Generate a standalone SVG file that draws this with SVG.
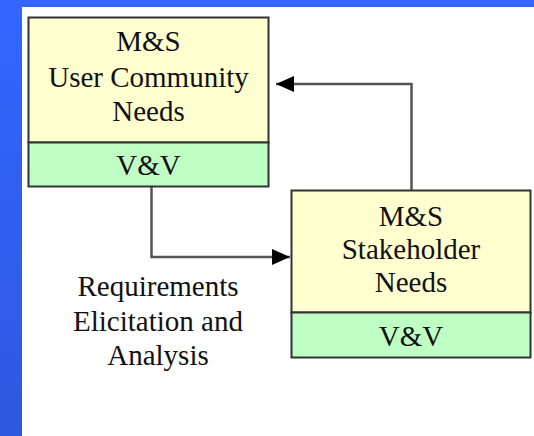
<svg xmlns="http://www.w3.org/2000/svg" width="534" height="436" viewBox="0 0 534 436">
<defs>
<linearGradient id="bg" x1="0" y1="0" x2="0" y2="1">
<stop offset="0" stop-color="#3366FF"/>
<stop offset="1" stop-color="#2D58E0"/>
</linearGradient>
<marker id="arr" viewBox="0 0 18 16" refX="18" refY="8" markerWidth="18" markerHeight="16" markerUnits="userSpaceOnUse" orient="auto">
<path d="M0,0 L18,8 L0,16 Z" fill="#000"/>
</marker>
<style>
.t{font-family:"Liberation Serif","Times New Roman",serif;font-size:29px;fill:#111;text-anchor:middle}
.top{fill:#FFFFD0;stroke:#333;stroke-width:2}
.bot{fill:#C0FFC4;stroke:#333;stroke-width:2}
.c{fill:none;stroke:#555;stroke-width:2.5}
</style>
</defs>
<rect x="0" y="0" width="534" height="436" fill="url(#bg)"/>
<rect x="22" y="7" width="512" height="429" fill="#FFFFFF"/>
<g id="connectors">
<path class="c" d="M411.5,190 V84 H276" marker-end="url(#arr)"/>
<path class="c" d="M151.5,187 V257 H290" marker-end="url(#arr)"/>
</g>
<g id="node-user">
<rect class="top" x="28.5" y="17.5" width="240" height="125"/>
<rect class="bot" x="28.5" y="142.5" width="240" height="44"/>
<text class="t" x="148.5" y="51">M&amp;S</text>
<text class="t" x="148.5" y="87">User Community</text>
<text class="t" x="148.5" y="121">Needs</text>
<text class="t" x="148.5" y="175">V&amp;V</text>
</g>
<g id="node-stakeholder">
<rect class="top" x="291.5" y="190.5" width="239" height="122"/>
<rect class="bot" x="291.5" y="312.5" width="239" height="45"/>
<text class="t" x="411" y="226">M&amp;S</text>
<text class="t" x="411" y="259">Stakeholder</text>
<text class="t" x="411" y="292">Needs</text>
<text class="t" x="411" y="346">V&amp;V</text>
</g>
<g id="label">
<text class="t" x="158" y="296">Requirements</text>
<text class="t" x="158" y="331">Elicitation and</text>
<text class="t" x="158" y="365">Analysis</text>
</g>
</svg>
